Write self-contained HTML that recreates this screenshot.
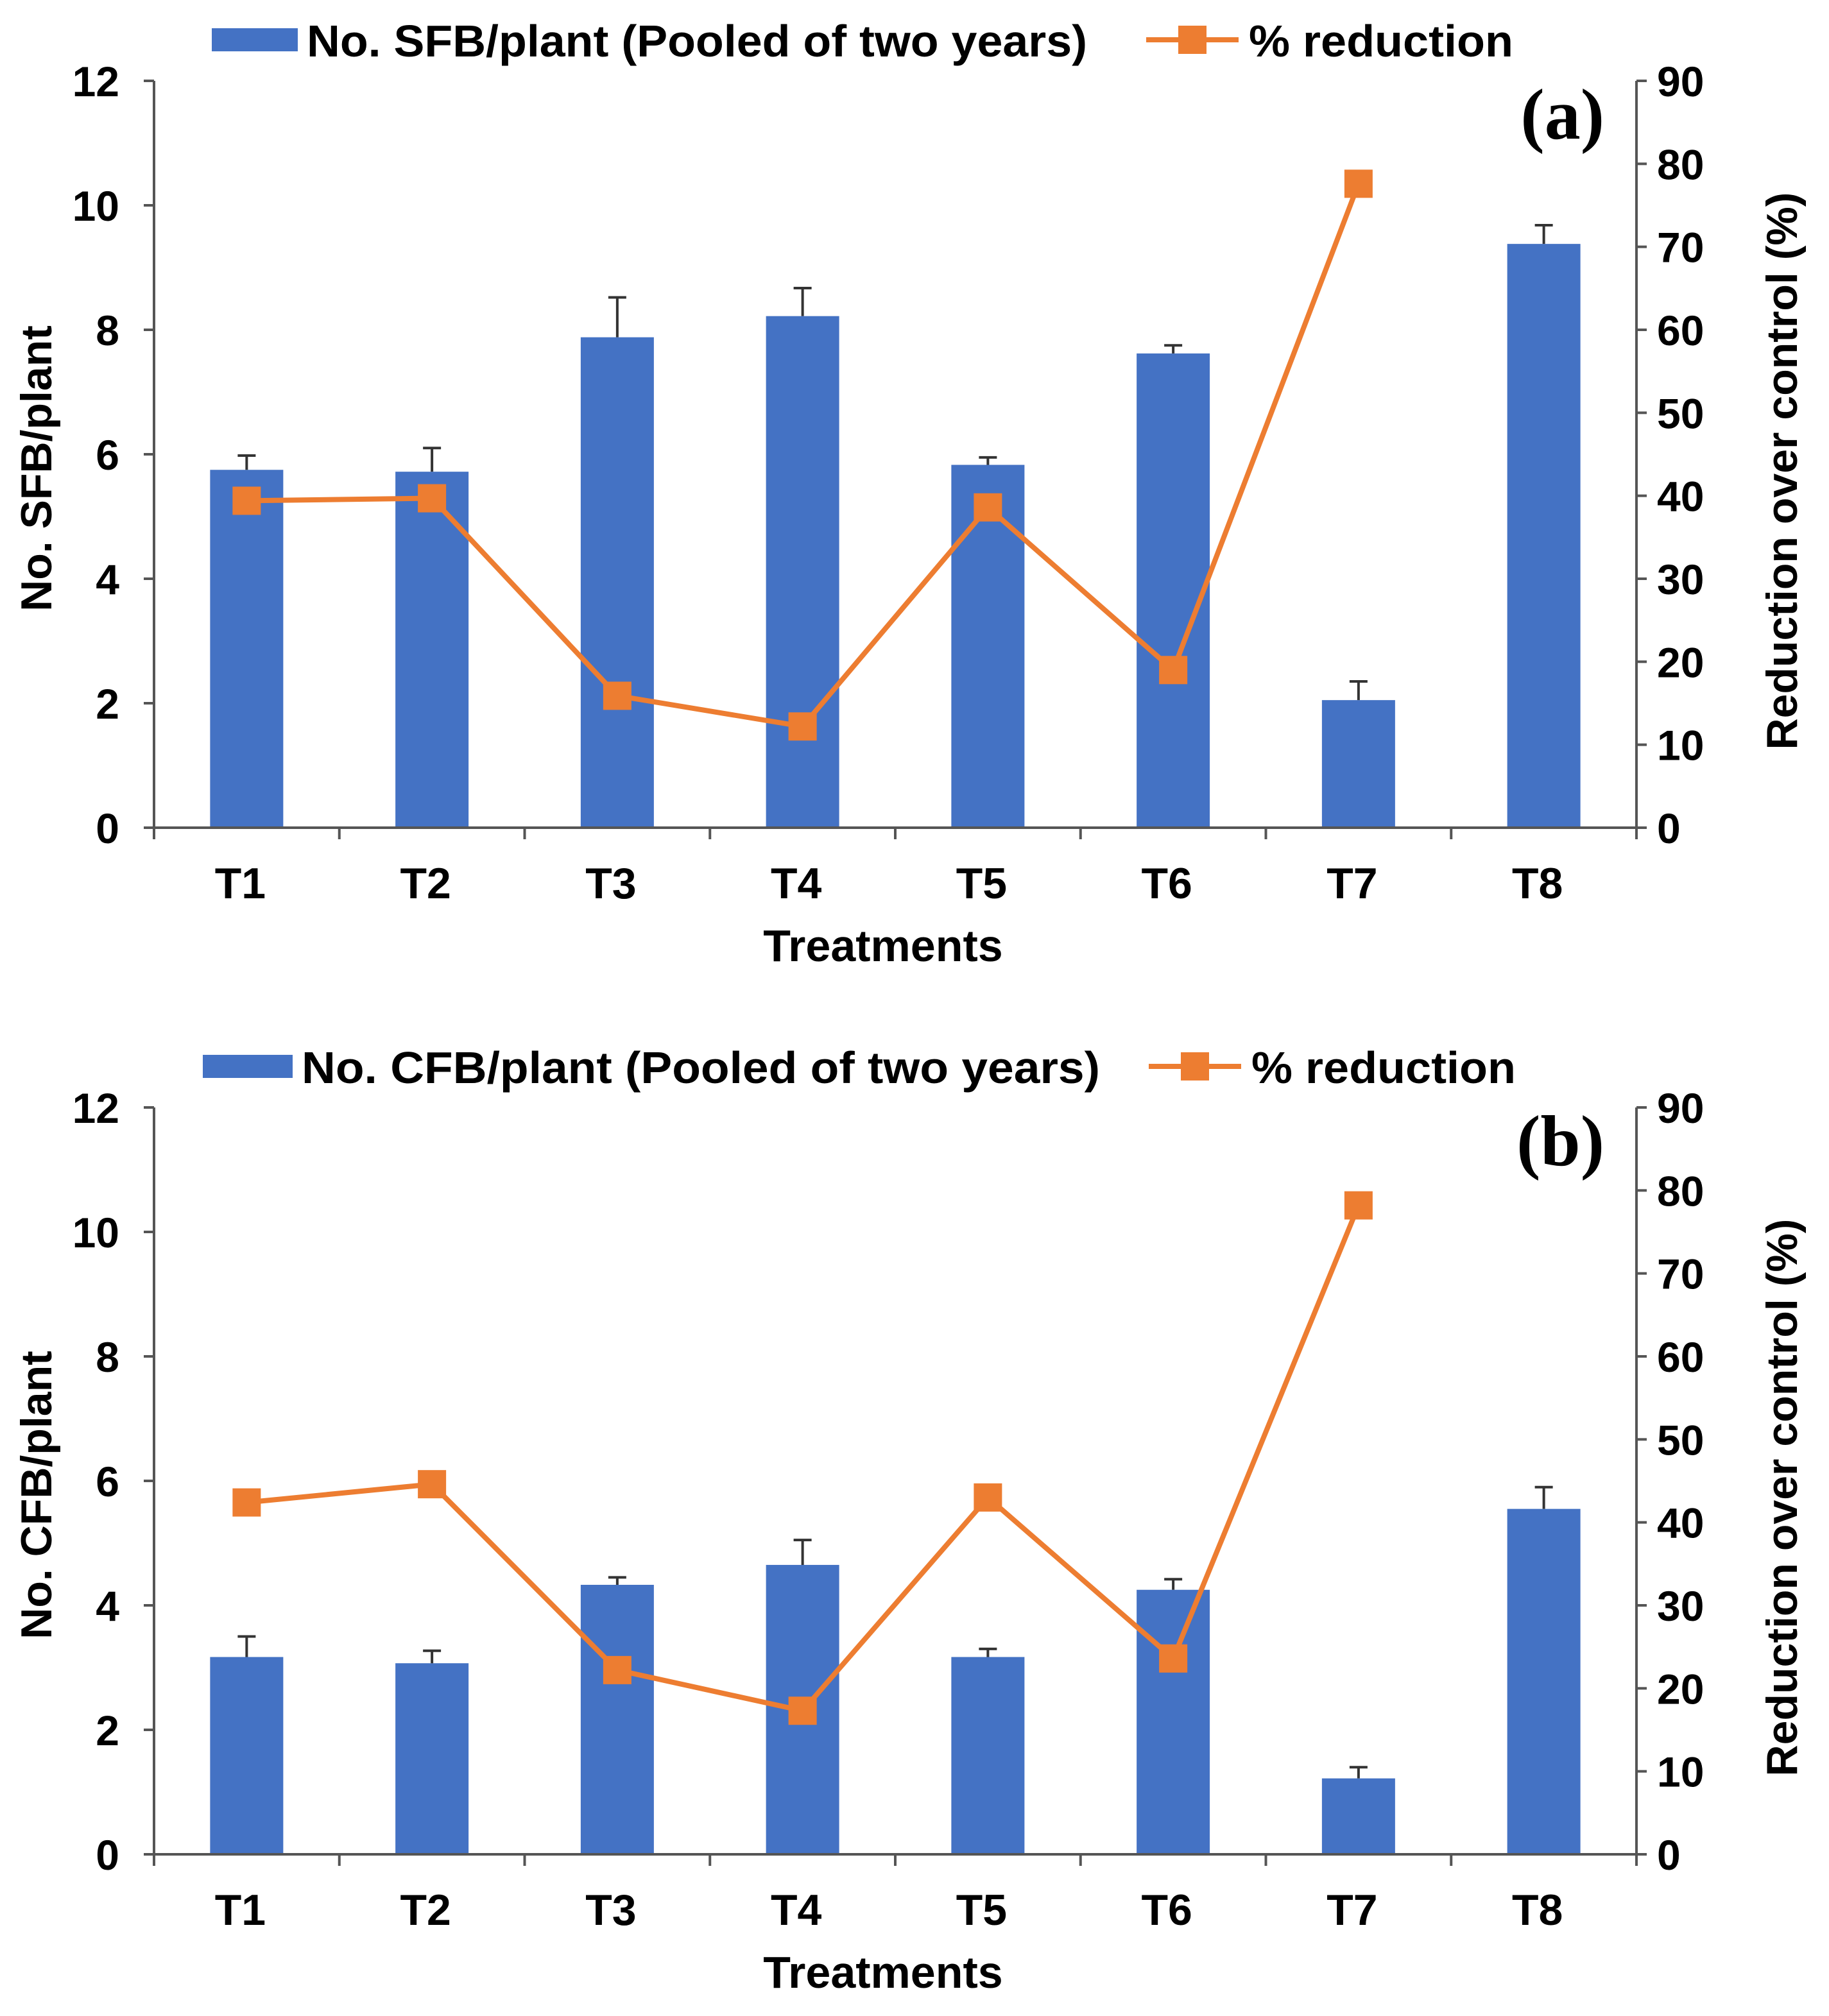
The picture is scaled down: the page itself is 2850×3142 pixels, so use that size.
<!DOCTYPE html>
<html><head><meta charset="utf-8">
<style>
html,body{margin:0;padding:0;background:#fff;}
svg{display:block;}
text{font-family:"Liberation Sans",Arial,sans-serif;font-weight:bold;fill:#000;}
</style></head>
<body>
<svg id="fig" width="2850" height="3142" viewBox="0 0 1425 1571" xmlns="http://www.w3.org/2000/svg">
</svg>
<script>
const categories = ["T1","T2","T3","T4","T5","T6","T7","T8"];
const leftTicks = [0,2,4,6,8,10,12];
const rightTicks = [0,10,20,30,40,50,60,70,80,90];
const sfbValues = [5.75,5.72,7.88,8.22,5.83,7.62,2.05,9.38];
const sfbErrTop = [5.98,6.10,8.52,8.67,5.95,7.75,2.35,9.68];
const sfbReduction = [39.4,39.7,15.9,12.2,38.6,19.0,77.6];
const cfbValues = [3.17,3.07,4.33,4.65,3.17,4.25,1.22,5.55];
const cfbErrTop = [3.50,3.27,4.45,5.05,3.30,4.42,1.40,5.90];
const cfbReduction = [42.4,44.6,22.2,17.3,43.0,23.6,78.2];

const NS="http://www.w3.org/2000/svg";
const svg=document.getElementById('fig');
function mk(tag,attrs,parent,txt){const e=document.createElementNS(NS,tag);for(const k in attrs)e.setAttribute(k,attrs[k]);if(txt!==undefined)e.textContent=txt;(parent||svg).appendChild(e);return e;}

function drawChart(id,oy,vals,errs,red,barLabel,yTitle,panel,leg){
  const g=mk('g',{});
  
  
  const x0=120,x1=1275,y0=645+oy,yTop=63+oy;
  const yL=v=>y0-(v/12)*(y0-yTop);
  const yR=v=>y0-(v/90)*(y0-yTop);
  const bw=(x1-x0)/categories.length;
  const cx=i=>x0+bw*(i+0.5);
  const lb=mk('rect',{x:leg[0],y:22+oy,width:leg[1]-leg[0],height:18,fill:'#4472C4'},g);
  
  
  const lt=mk('text',{x:leg[1]+7,y:44+oy,'font-size':35,textLength:leg[3],lengthAdjust:'spacingAndGlyphs'},g,barLabel);
  
  
  const ll=mk('line',{x1:leg[2],x2:leg[2]+72,y1:31+oy,y2:31+oy,stroke:'#ED7D31','stroke-width':4},g);
  
  
  mk('rect',{x:leg[2]+25,y:20+oy,width:22,height:22,fill:'#ED7D31'},g);
  const lt2=mk('text',{x:leg[2]+80,y:44+oy,'font-size':35,textLength:206,lengthAdjust:'spacingAndGlyphs'},g,'% reduction');
  
  
  vals.forEach((v,i)=>{
    const b=mk('rect',{x:cx(i)-28.5,y:yL(v),width:57,height:y0-yL(v),fill:'#4472C4'},g);
    
    
    const e=mk('path',{d:`M${cx(i)} ${yL(v)}V${yL(errs[i])}M${cx(i)-7} ${yL(errs[i])}H${cx(i)+7}`,stroke:'#333','stroke-width':2,fill:'none'},g);
    
    
  });
  const ax=mk('path',{d:`M${x0} ${yTop}V${y0}M${x1} ${yTop}V${y0}M${x0} ${y0}H${x1}`,stroke:'#555','stroke-width':2,fill:'none'},g);
  
  
  leftTicks.forEach(t=>{
    mk('line',{x1:x0-8,x2:x0,y1:yL(t),y2:yL(t),stroke:'#555','stroke-width':2},g);
    const tx=mk('text',{x:93,y:yL(t)+12,'font-size':33,'text-anchor':'end'},g,t);
    
    
  });
  rightTicks.forEach(t=>{
    mk('line',{x1:x1,x2:x1+8,y1:yR(t),y2:yR(t),stroke:'#555','stroke-width':2},g);
    const tx=mk('text',{x:1291,y:yR(t)+12,'font-size':33},g,t);
    
    
  });
  for(let i=0;i<=categories.length;i++){
    mk('line',{x1:x0+bw*i,x2:x0+bw*i,y1:y0,y2:y0+9,stroke:'#555','stroke-width':2},g);
  }
  categories.forEach((c,i)=>{
    const tx=mk('text',{x:cx(i)-5,y:y0+55,'font-size':34,'text-anchor':'middle'},g,c);
    
    
  });
  const xt=mk('text',{x:688,y:y0+104,'font-size':35,'text-anchor':'middle'},g,'Treatments');
  
  
  const yt=mk('text',{x:0,y:0,'font-size':34,'text-anchor':'middle',transform:`translate(40,${365+oy}) rotate(-90)`},g,yTitle);
  
  
  const rt=mk('text',{x:0,y:0,'font-size':34,'text-anchor':'middle',transform:`translate(1400,${367+oy}) rotate(-90)`},g,'Reduction over control (%)');
  
  
  const pl=mk('text',{x:1250,y:108+oy,'font-size':56,'text-anchor':'end',style:'font-family:"Liberation Serif",serif'},g,panel);
  
  
  const pts=red.map((v,i)=>`${cx(i)},${yR(v)}`).join(' ');
  const pline=mk('polyline',{points:pts,fill:'none',stroke:'#ED7D31','stroke-width':4},g);
  
  
  red.forEach((v,i)=>{
    const m=mk('rect',{x:cx(i)-11,y:yR(v)-11,width:22,height:22,fill:'#ED7D31'},g);
    
    
  });
}
drawChart('a',0,sfbValues,sfbErrTop,sfbReduction,'No. SFB/plant (Pooled of two years)','No. SFB/plant','(a)',[165,232,893,608]);
drawChart('b',800,cfbValues,cfbErrTop,cfbReduction,'No. CFB/plant (Pooled of two years)','No. CFB/plant','(b)',[158,228,895,622]);
</script>
</body></html>
